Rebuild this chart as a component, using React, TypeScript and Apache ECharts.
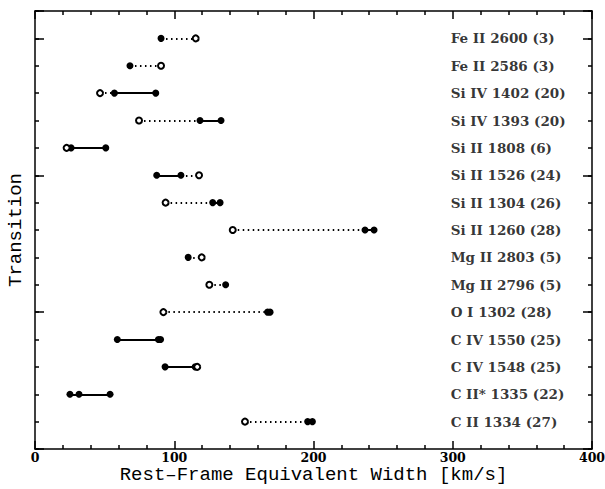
import { useEffect, useRef } from "react";
import * as echarts from "echarts";

// Transitions listed top to bottom, with the number of systems in parentheses
const transitions = [
  "Fe II 2600 (3)",
  "Fe II 2586 (3)",
  "Si IV 1402 (20)",
  "Si IV 1393 (20)",
  "Si II 1808 (6)",
  "Si II 1526 (24)",
  "Si II 1304 (26)",
  "Si II 1260 (28)",
  "Mg II 2803 (5)",
  "Mg II 2796 (5)",
  "O I 1302 (28)",
  "C IV 1550 (25)",
  "C IV 1548 (25)",
  "C II* 1335 (22)",
  "C II 1334 (27)",
];

// Filled symbols: measured rest-frame equivalent widths [km/s], one list per transition
const measured: number[][] = [
  [90.5],
  [68.2],
  [57, 86.7],
  [118.5, 133.6],
  [25.9, 50.8],
  [87.4, 104.8],
  [127.6, 132.9],
  [237, 243.5],
  [110],
  [136.9],
  [167, 168.8],
  [59.1, 88.6, 90.2],
  [93.4, 115],
  [25.1, 31.6, 53.9],
  [195.8, 199.2],
];

// Open symbols: limiting values [km/s], one list per transition
const limits: number[][] = [
  [115.4],
  [90.5],
  [46.7],
  [74.7],
  [22.7],
  [117.8],
  [93.8],
  [142],
  [119.7],
  [125.2],
  [92.2],
  [],
  [116.5],
  [],
  [150.8],
];

const xTicks = [0, 100, 200, 300, 400];

const TITLE_FONT = "Liberation Mono";
const LABEL_FONT = "DejaVu Serif";
const LABEL_X = 298.5;
const INK = "#000";

export default function App() {
  const ref = useRef<HTMLDivElement>(null);

  useEffect(() => {
    if (!ref.current) return;
    const chart = echarts.init(ref.current, null, { renderer: "svg" });

    const n = transitions.length;
    const rowY = (i: number) => n - i;

    const filledPts: number[][] = [];
    const openPts: number[][] = [];
    const solidSegs: { coords: number[][] }[] = [];
    const dottedSegs: { coords: number[][] }[] = [];

    transitions.forEach((_, i) => {
      const y = rowY(i);
      const pts: { x: number; filled: boolean }[] = [];
      measured[i].forEach((x) => {
        filledPts.push([x, y]);
        pts.push({ x, filled: true });
      });
      limits[i].forEach((x) => {
        openPts.push([x, y]);
        pts.push({ x, filled: false });
      });
      pts.sort((a, b) => a.x - b.x);
      // solid between two measurements, dotted where a limit is involved
      for (let k = 1; k < pts.length; k++) {
        const seg = { coords: [[pts[k - 1].x, y], [pts[k].x, y]] };
        if (pts[k - 1].filled && pts[k].filled) solidSegs.push(seg);
        else dottedSegs.push(seg);
      }
    });

    const lineStyle = { color: INK, width: 1.5 };

    const xBase = {
      type: "value" as const,
      min: xTicks[0],
      max: xTicks[xTicks.length - 1],
      interval: xTicks[1] - xTicks[0],
      axisLine: { show: true, onZero: false, lineStyle },
      axisTick: { show: true, inside: true, length: 8, lineStyle },
      minorTick: { show: true, splitNumber: 5, length: 4, lineStyle },
      splitLine: { show: false },
      minorSplitLine: { show: false },
    };

    const yMinor = (position: "left" | "right") => ({
      type: "value" as const,
      position,
      min: 0,
      max: n + 1,
      interval: 1,
      axisLine: { show: true, onZero: false, lineStyle },
      axisTick: { show: true, inside: true, length: 4, lineStyle },
      axisLabel: { show: false },
      splitLine: { show: false },
    });
    const yMajor = (position: "left" | "right") => ({
      type: "value" as const,
      position,
      min: 0,
      max: n + 1,
      interval: 5,
      axisLine: { show: false, onZero: false },
      axisTick: { show: true, inside: true, length: 9, lineStyle },
      axisLabel: { show: false },
      splitLine: { show: false },
    });

    chart.setOption({
      animation: false,
      backgroundColor: "#fff",
      grid: {
        left: 35,
        right: 13,
        top: 11,
        bottom: 40,
        containLabel: false,
        outerBoundsMode: "none",
      },
      xAxis: [
        {
          ...xBase,
          position: "bottom",
          axisLabel: {
            show: true,
            color: INK,
            fontFamily: LABEL_FONT,
            fontWeight: "bold",
            fontSize: 12.5,
            lineHeight: 11,
            margin: 3,
          },
          name: "Rest\u2013Frame Equivalent Width [km/s]",
          nameLocation: "middle",
          nameGap: 17,
          nameMoveOverlap: false,
          nameTextStyle: {
            color: INK,
            fontFamily: TITLE_FONT,
            fontSize: 19,
            lineHeight: 18,
          },
        },
        { ...xBase, position: "top", axisLabel: { show: false } },
      ],
      yAxis: [
        {
          ...yMinor("left"),
          name: "Transition",
          nameLocation: "middle",
          nameRotate: 90,
          nameGap: 10,
          nameMoveOverlap: false,
          nameTextStyle: { color: INK, fontFamily: TITLE_FONT, fontSize: 19 },
        },
        yMajor("left"),
        yMinor("right"),
        yMajor("right"),
      ],
      series: [
        {
          type: "lines",
          coordinateSystem: "cartesian2d",
          xAxisIndex: 0,
          yAxisIndex: 0,
          silent: true,
          lineStyle: { color: INK, width: 2, type: "solid", opacity: 1 },
          data: solidSegs,
          z: 2,
        },
        {
          type: "lines",
          coordinateSystem: "cartesian2d",
          xAxisIndex: 0,
          yAxisIndex: 0,
          silent: true,
          lineStyle: { color: INK, width: 2, type: [1.5, 3.5], opacity: 1 },
          data: dottedSegs,
          z: 2,
        },
        {
          type: "scatter",
          xAxisIndex: 0,
          yAxisIndex: 0,
          symbol: "circle",
          symbolSize: 7,
          itemStyle: { color: INK, opacity: 1 },
          data: filledPts,
          z: 3,
        },
        {
          type: "scatter",
          xAxisIndex: 0,
          yAxisIndex: 0,
          symbol: "circle",
          symbolSize: 6,
          itemStyle: { color: "#fff", borderColor: INK, borderWidth: 2, opacity: 1 },
          data: openPts,
          z: 4,
        },
        {
          type: "scatter",
          xAxisIndex: 0,
          yAxisIndex: 0,
          symbolSize: 0,
          silent: true,
          data: transitions.map((t, i) => [LABEL_X, rowY(i), t]),
          label: {
            show: true,
            position: "right",
            distance: 0,
            color: INK,
            fontFamily: LABEL_FONT,
            fontWeight: "bold",
            fontSize: 13.5,
            formatter: (p: any) => p.data[2],
          },
          z: 5,
        },
      ],
    });

    return () => chart.dispose();
  }, []);

  return (
    <div
      ref={ref}
      style={{ position: "absolute", left: 0, top: 0, width: 605, height: 489 }}
    />
  );
}
